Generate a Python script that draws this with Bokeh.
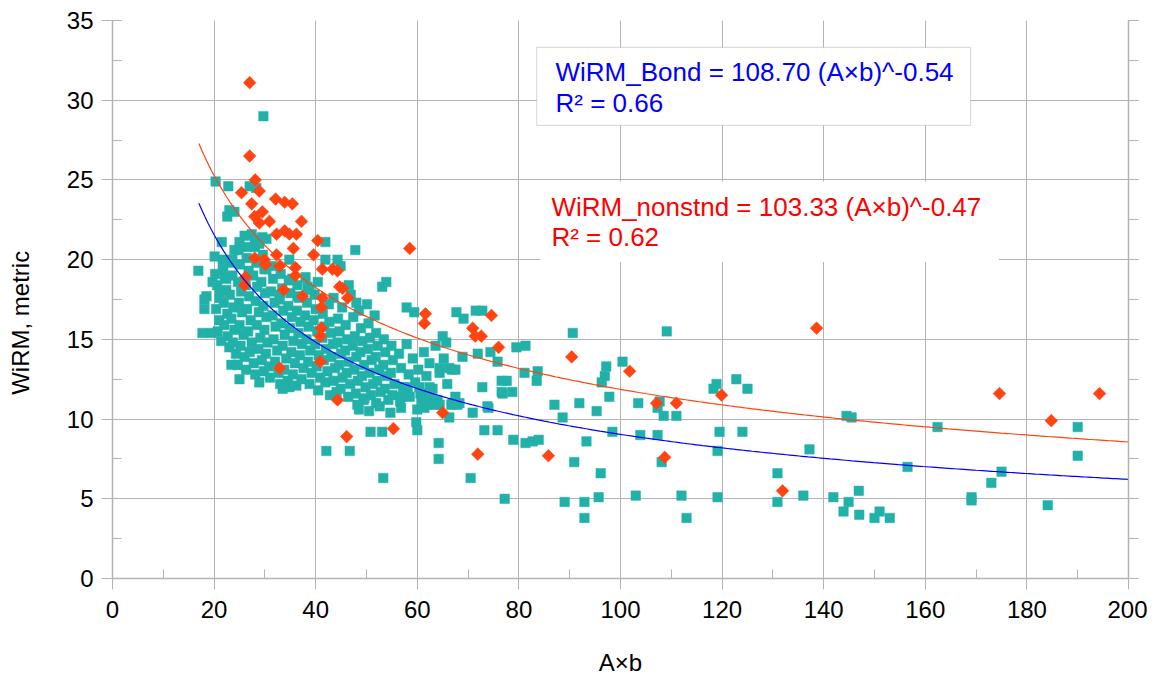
import numpy as np
from bokeh.plotting import figure
from bokeh.models import (Range1d, LinearAxis, SingleIntervalTicker, Label,
                          BoxAnnotation, CustomJSTickFormatter)
from bokeh.embed import file_html
from bokeh.resources import INLINE

# ---------------- data ----------------
x_ticks = list(range(0, 201, 20))
y_ticks = list(range(0, 36, 5))

# WiRM_Bond (teal squares) - dense core
bond_core = [
    (20.2, 19.1), (20.6, 18.4), (21.1, 17.6), (20.4, 16.9), (21.0, 16.2), (20.7, 15.5), (21.4, 14.9),
    (21.8, 19.6), (22.1, 18.9), (22.4, 18.1), (21.9, 17.3), (22.6, 16.6), (22.0, 15.9), (22.7, 15.2),
    (23.0, 14.5), (23.3, 19.8), (23.6, 19.0), (23.1, 17.8), (23.8, 17.0), (23.4, 16.3), (24.0, 15.6),
    (23.7, 14.8), (24.3, 14.1), (24.6, 13.4), (24.8, 20.6), (25.1, 19.7), (24.7, 18.6), (25.3, 18.0),
    (24.9, 17.3), (25.5, 16.7), (25.0, 15.9), (25.8, 15.3), (25.2, 14.6), (26.0, 13.9), (26.3, 13.1),
    (26.4, 20.1), (26.8, 19.3), (26.2, 18.4), (26.9, 17.7), (26.5, 16.9), (27.2, 16.2), (26.7, 15.5),
    (27.4, 14.8), (27.0, 14.2), (27.8, 13.5), (28.1, 12.8), (28.0, 20.8), (28.3, 19.8), (27.7, 19.0),
    (28.5, 18.3), (28.2, 17.4), (28.8, 16.7), (28.4, 15.9), (29.1, 15.1), (28.7, 14.4), (29.4, 13.7),
    (29.8, 13.0), (29.6, 20.3), (29.9, 19.4), (29.3, 18.6), (30.0, 17.9), (29.7, 17.1), (30.3, 16.4),
    (29.9, 15.6), (30.5, 14.8), (30.2, 14.1), (30.8, 13.3), (31.0, 12.6),
    (31.3, 19.6), (31.6, 18.8), (31.2, 18.0), (31.9, 17.3), (31.5, 16.5), (32.1, 15.8), (31.7, 15.0),
    (32.4, 14.3), (32.0, 13.6), (32.7, 12.9), (33.0, 12.2), (33.1, 19.1), (33.4, 18.2), (32.9, 17.5),
    (33.6, 16.8), (33.2, 16.0), (33.9, 15.3), (33.5, 14.6), (34.2, 13.8), (33.8, 13.1), (34.5, 12.4),
    (34.7, 18.7), (35.0, 17.9), (34.6, 17.1), (35.3, 16.4), (34.9, 15.7), (35.6, 14.9), (35.2, 14.2),
    (35.9, 13.5), (35.5, 12.8), (36.2, 12.1), (36.4, 18.4), (36.7, 17.6), (36.3, 16.8), (37.0, 16.1),
    (36.6, 15.4), (37.3, 14.7), (36.9, 14.0), (37.6, 13.2), (37.2, 12.5), (38.0, 18.9), (38.3, 17.3),
    (37.9, 16.5), (38.6, 15.8), (38.2, 15.0), (38.9, 14.3), (38.5, 13.6), (39.2, 12.9), (38.8, 12.2),
    (39.8, 17.8), (40.0, 16.9), (39.6, 16.2), (40.3, 15.5), (39.9, 14.7), (40.6, 14.0), (40.2, 13.3),
    (40.9, 12.6), (41.4, 16.6), (41.7, 15.8), (41.3, 15.1), (42.0, 14.4), (41.6, 13.7), (42.3, 13.0),
    (41.9, 12.3), (42.6, 17.2), (43.0, 15.4), (42.7, 16.1),
    (33.5, 11.9), (34.8, 12.0), (40.5, 11.8), (42.8, 11.5),
]

bond_mid = [
    (43.4, 14.7), (43.1, 13.9), (43.8, 13.2), (43.5, 12.4), (44.1, 11.7), (44.4, 16.3), (44.7, 15.5),
    (44.3, 14.8), (45.0, 14.1), (44.6, 13.4), (45.3, 12.6), (44.9, 11.9), (45.9, 15.9), (46.2, 15.0),
    (45.8, 14.3), (46.5, 13.6), (46.1, 12.9), (46.8, 12.2), (46.4, 11.4), (47.4, 16.4), (47.7, 15.2),
    (47.3, 14.6), (48.0, 13.9), (47.6, 13.1), (48.3, 12.4), (47.9, 11.6), (48.9, 15.7), (49.2, 14.9),
    (48.8, 14.2), (49.5, 13.4), (49.1, 12.7), (49.8, 12.0), (49.4, 11.2), (50.4, 16.0), (50.7, 15.1),
    (50.3, 14.4), (51.0, 13.7), (50.6, 12.9), (51.3, 12.2), (50.9, 11.5), (51.9, 15.4), (52.2, 14.6),
    (51.8, 13.9), (52.5, 13.1), (52.1, 12.4), (52.8, 11.7), (53.4, 15.0), (53.7, 14.2), (53.3, 13.4),
    (54.0, 12.7), (53.6, 11.9), (54.3, 11.2), (54.9, 14.6), (55.2, 13.7), (54.8, 12.9), (55.5, 12.2),
    (55.1, 11.5), (43.5, 17.6), (45.2, 17.0), (46.9, 17.8), (48.5, 16.8), (50.1, 17.2), (51.6, 16.5),
    (49.6, 11.3), (51.9, 11.0), (48.5, 10.6), (50.5, 10.5), (52.6, 10.8), (54.7, 10.4), (56.8, 10.7),
    (56.4, 14.1), (56.8, 13.2), (57.2, 12.0), (56.6, 11.1), (57.9, 14.7), (58.3, 12.8), (58.0, 11.5),
    (59.1, 13.8), (59.6, 12.3), (60.2, 13.1), (60.6, 11.6), (61.3, 14.2), (61.8, 12.7), (62.4, 13.5),
    (63.0, 11.9), (63.6, 14.6), (64.4, 12.9), (65.2, 13.8), (65.9, 12.2), (66.8, 13.1), (67.5, 11.4),
    (60.0, 10.6), (62.0, 10.9), (64.0, 11.2),
]

bond_fringe = [
    (20.3, 24.9), (22.8, 24.6), (27.0, 24.6), (28.3, 24.5), (29.7, 29.0), (23.0, 23.1), (22.6, 22.7),
    (24.0, 23.0), (27.4, 21.6), (26.0, 21.5), (25.0, 21.1), (21.5, 21.1), (24.0, 20.6), (28.0, 21.3),
    (28.9, 21.0), (26.6, 20.8), (20.1, 20.2), (21.7, 20.0), (23.6, 20.0), (16.9, 19.3), (19.7, 18.6),
    (21.7, 19.4), (22.4, 18.8), (21.1, 17.8), (18.5, 17.7), (30.3, 21.3), (29.5, 21.4), (34.8, 20.0),
    (30.3, 19.4), (38.4, 18.3), (35.4, 18.8), (32.9, 17.8), (36.4, 17.7),
    (47.8, 20.6), (41.9, 21.1), (41.9, 20.0), (44.3, 20.0), (44.9, 19.6), (38.8, 18.1), (40.4, 18.6),
    (46.5, 18.4), (53.1, 18.3), (53.9, 18.6), (48.0, 17.3), (57.9, 17.0), (59.4, 16.7),
    (18.1, 17.5), (18.1, 16.9), (17.7, 15.4), (19.5, 15.4), (23.4, 13.4), (24.6, 13.4), (25.0, 12.5),
    (28.9, 12.3),
    (67.7, 16.7), (69.1, 16.3), (71.5, 16.8), (72.8, 16.8), (65.0, 15.2), (65.7, 14.8), (68.9, 13.9),
    (71.9, 14.1), (74.4, 14.2), (75.8, 13.6), (79.5, 14.5), (81.3, 14.6), (64.4, 13.2), (66.3, 13.2),
    (67.5, 13.1), (81.1, 12.9), (72.8, 12.0), (76.6, 12.4), (77.6, 12.4), (78.7, 11.7), (76.6, 11.7),
    (73.8, 10.8), (70.9, 10.4), (66.7, 10.9), (67.9, 10.9), (64.4, 10.9), (63.6, 10.9), (61.4, 10.7),
    (59.8, 9.8), (60.0, 9.3), (50.8, 9.2), (53.1, 9.2), (73.2, 9.3), (75.8, 9.3), (48.2, 10.9),
    (58.1, 12.0), (60.4, 12.0), (56.9, 11.4), (58.5, 11.4), (60.8, 11.2), (62.4, 11.4), (62.4, 12.0),
    (66.9, 11.0), (68.3, 11.0), (66.3, 10.1), (64.2, 8.5), (42.1, 8.0), (46.7, 8.0), (64.2, 7.5),
    (53.3, 6.3), (70.5, 6.3),
]

bond_tail = [
    (90.6, 15.4), (109.1, 15.5), (83.7, 13.0), (83.5, 12.4), (76.8, 11.6), (97.2, 13.3), (96.9, 12.7),
    (96.3, 12.3), (100.4, 13.6), (97.8, 11.4), (87.0, 10.9), (91.9, 11.0), (95.3, 10.5), (88.6, 10.1),
    (103.5, 11.0), (107.7, 11.1), (107.3, 10.7), (108.5, 10.2), (111.0, 10.2), (118.9, 12.2),
    (118.3, 11.9), (74.0, 10.7), (78.9, 8.7), (81.3, 8.5), (82.7, 8.6), (83.9, 8.7), (93.3, 8.6),
    (98.4, 9.2), (103.9, 9.0), (107.3, 9.0), (119.5, 9.2), (119.1, 8.0), (90.9, 7.3), (108.1, 7.3),
    (96.1, 6.6), (77.2, 5.0), (89.0, 4.8), (92.9, 4.8), (95.7, 5.1), (103.0, 5.2), (112.0, 5.2),
    (119.1, 5.1), (92.9, 3.8), (113.0, 3.8),
    (122.8, 12.5), (125.0, 11.9), (124.0, 9.2), (137.2, 8.1), (130.9, 6.6), (130.9, 4.8), (136.0, 5.2),
    (141.9, 5.1), (144.9, 4.8), (146.9, 5.5), (143.9, 4.2), (147.0, 4.0), (151.0, 4.2), (150.0, 3.8),
    (153.0, 3.8), (144.5, 10.2), (145.5, 10.1), (156.5, 7.0), (162.4, 9.5), (169.1, 5.1), (169.1, 4.9),
    (173.0, 6.0), (175.0, 6.7), (184.1, 4.6), (190.0, 9.5), (190.0, 7.7),
]

# WiRM_nonstnd (red diamonds)
nonstnd_points = [
    (27.0, 31.1), (27.0, 26.5), (28.1, 25.0), (25.4, 24.2), (28.9, 24.3), (32.1, 23.8), (33.9, 23.6),
    (35.4, 23.5), (27.4, 23.5), (29.5, 23.0), (28.0, 22.7), (28.9, 22.3), (30.9, 22.4), (37.2, 22.4),
    (32.3, 21.6), (33.9, 21.8), (34.8, 21.6), (36.2, 21.6), (35.6, 20.7), (28.0, 20.1), (29.9, 20.0),
    (32.3, 20.3), (30.1, 19.7), (32.9, 19.6), (36.0, 19.5), (36.0, 19.0), (26.2, 18.9), (26.0, 18.4),
    (33.7, 18.1), (37.4, 17.7), (40.4, 21.2), (39.6, 20.3), (58.5, 20.7), (41.3, 19.4), (43.3, 19.4),
    (44.3, 19.3), (44.7, 18.3), (45.3, 18.2), (46.3, 17.6), (41.3, 17.6), (41.1, 17.0), (61.6, 16.6),
    (61.4, 16.0), (41.1, 15.7), (40.9, 15.2), (40.9, 13.6), (32.9, 13.2), (44.3, 11.2), (46.1, 8.9),
    (55.3, 9.4), (65.0, 10.4), (71.9, 7.8), (70.9, 15.7), (71.4, 15.2), (72.6, 15.2), (74.6, 16.5),
    (76.0, 14.5), (85.8, 7.7), (90.4, 13.9), (101.8, 13.0), (107.1, 11.0), (111.0, 11.0), (108.7, 7.6),
    (119.9, 11.5), (131.9, 5.5), (138.6, 15.7), (174.6, 11.6), (184.8, 9.9), (194.3, 11.6),
]

# power-law trend lines (coefficients as printed on the chart)
bond_fit = {"a": 108.70, "b": -0.54, "r2": 0.66, "x_from": 17.0, "x_to": 200.0}
nonstnd_fit = {"a": 103.33, "b": -0.47, "r2": 0.62, "x_from": 17.0, "x_to": 200.0}

# ---------------- styles ----------------
FONT = "Liberation Sans"
GRID = "#b3b3b3"
TEAL = "#22b1a9"
RED = "#ff4411"

bond_all = bond_core + bond_mid + bond_fringe + bond_tail
bx, by = zip(*bond_all)
rx, ry = zip(*nonstnd_points)

p = figure(frame_width=1016, frame_height=558,
           x_range=Range1d(0, 200), y_range=Range1d(0, 35),
           output_backend="svg", toolbar_location=None,
           min_border_left=112, min_border_right=19, min_border_top=20, min_border_bottom=90,
           background_fill_color="white", border_fill_color="white", outline_line_color=None)

xt = SingleIntervalTicker(interval=20, num_minor_ticks=2)
yt = SingleIntervalTicker(interval=5, num_minor_ticks=2)
p.xaxis.ticker = xt
p.yaxis.ticker = yt
p.xgrid.ticker = xt
p.ygrid.ticker = yt
for g in (p.xgrid, p.ygrid):
    g.grid_line_color = GRID
    g.grid_line_width = 1

for ax in (p.xaxis, p.yaxis):
    ax.axis_line_color = GRID
    ax.axis_line_width = 1.5
    ax.major_tick_line_color = GRID
    ax.minor_tick_line_color = GRID
    ax.major_tick_out = 11
    ax.major_tick_in = 0
    ax.minor_tick_in = 9
    ax.minor_tick_out = 0
    ax.major_label_text_font = FONT
    ax.major_label_text_font_size = "24px"
    ax.major_label_text_color = "black"
    ax.axis_label_text_font = FONT
    ax.axis_label_text_font_size = "24px"
    ax.axis_label_text_font_style = "normal"
    ax.axis_label_text_color = "black"

p.xaxis.axis_label = "A×b"
p.xaxis.major_label_standoff = 11
p.xaxis.axis_label_standoff = 28
p.yaxis.major_label_standoff = 8
# trailing no-break spaces move the visible title a little below the frame centre, as in the reference
p.yaxis.axis_label = "WiRM, metric" + "\u00a0" * 7
p.yaxis.axis_label_standoff = 30

right = LinearAxis(ticker=SingleIntervalTicker(interval=5, num_minor_ticks=2),
                   formatter=CustomJSTickFormatter(code="return ''"))
right.axis_line_color = GRID
right.axis_line_width = 1.5
right.major_tick_line_color = GRID
right.minor_tick_line_color = GRID
right.major_tick_out = 10
right.major_tick_in = 0
right.minor_tick_out = 10
right.minor_tick_in = 0
right.major_label_standoff = 0
right.major_label_text_font_size = "1px"
p.add_layout(right, "right")

# scatter
p.scatter(list(bx), list(by), marker="square", size=9.5, fill_color=TEAL, line_color=TEAL, line_width=0.5)
p.scatter(list(rx), list(ry), marker="square", angle=np.pi / 4, size=9,
          fill_color=RED, line_color=RED, line_width=0.5)

# trend lines
for fit, col in ((bond_fit, "#0000ff"), (nonstnd_fit, "#ff4411")):
    xs = np.linspace(fit["x_from"], fit["x_to"], 300)
    p.line(xs, fit["a"] * xs ** fit["b"], line_color=col, line_width=1.2)

# equation boxes
p.add_layout(BoxAnnotation(left=83.5, right=168.9, bottom=28.42, top=33.31,
                           fill_color="white", fill_alpha=1.0,
                           line_color="#8c8c8c", line_width=1.2, level="overlay"))
p.add_layout(BoxAnnotation(left=84.2, right=174.5, bottom=19.85, top=24.9,
                           fill_color="white", fill_alpha=1.0, line_alpha=0, level="overlay"))

eq_style = dict(text_font=FONT, text_font_size="26px", text_baseline="alphabetic", level="overlay")
p.add_layout(Label(x=87.2, y=31.74,
                   text=f"WiRM_Bond = {bond_fit['a']:.2f} (A×b)^{bond_fit['b']:.2f}",
                   text_color="#0000ff", **eq_style))
p.add_layout(Label(x=87.2, y=29.80, text=f"R² = {bond_fit['r2']:.2f}",
                   text_color="#0000ff", **eq_style))
p.add_layout(Label(x=86.4, y=23.29,
                   text=f"WiRM_nonstnd = {nonstnd_fit['a']:.2f} (A×b)^{nonstnd_fit['b']:.2f}",
                   text_color="#ff0000", **eq_style))
p.add_layout(Label(x=86.4, y=21.40, text=f"R² = {nonstnd_fit['r2']:.2f}",
                   text_color="#ff0000", **eq_style))

open("out.html", "w").write(file_html(p, INLINE))
